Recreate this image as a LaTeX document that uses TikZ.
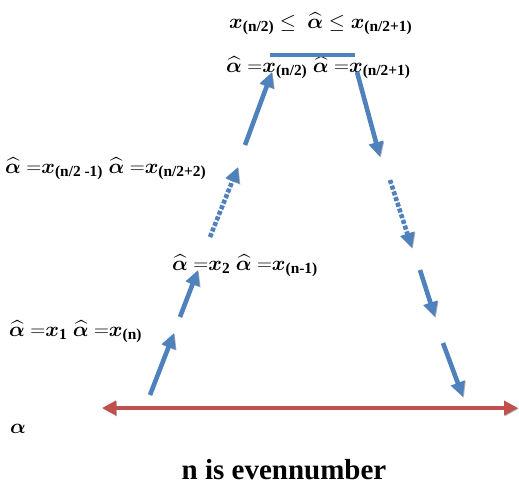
\documentclass[tikz,border=0pt]{standalone}
\usepackage{amsmath,amssymb,bm}
\usepackage{fontspec}
\setmainfont{Liberation Serif}
\usetikzlibrary{arrows.meta,positioning}
\definecolor{arrowBlue}{RGB}{79,129,189}
\definecolor{lineRed}{RGB}{192,80,77}
\newcommand{\ahat}{\widehat{\bm{\alpha}}}
\newcommand{\xsub}[1]{\bm{x}_{\text{\bfseries #1}}}
\tikzset{
  lbl/.style={anchor=base west,inner sep=0pt,font=\fontsize{22}{26}\selectfont},
  bluearrow/.style={draw=arrowBlue,line width=4.6pt,
    -{Triangle[width=14pt,length=15pt]},
    preaction={draw=gray!60,transform canvas={shift={(0.8pt,-0.8pt)}}}},
  dotarrow/.style={bluearrow,dash pattern=on 4pt off 2pt},
  redline/.style={draw=lineRed,line width=4.6pt,
    {Triangle[width=14pt,length=14pt]}-{Triangle[width=14pt,length=14pt]},
    preaction={draw=gray!60,transform canvas={shift={(0.8pt,-0.8pt)}}}}
}
\begin{document}
\begin{tikzpicture}[x=1pt,y=-1pt]
\useasboundingbox (0,0) rectangle (519,488);
% labels
\node[lbl] (top) at (229,28) {$\xsub{(n/2)}\le\ \ahat\le\xsub{(n/2+1)}$};
\node[lbl] (mid) at (226,72) {$\ahat\ {=}\xsub{(n/2)}\ \ahat\ {=}\xsub{(n/2+1)}$};
\node[lbl] (lvl3) at (5,173) {$\ahat\ {=}\xsub{(n/2 -1)}\ \ahat\ {=}\xsub{(n/2+2)}$};
\node[lbl] (lvl2) at (172,270) {$\ahat\ {=}\xsub{2}\ \ahat\ {=}\xsub{(n-1)}$};
\node[lbl] (lvl1) at (9,336) {$\ahat\ {=}\xsub{1}\ \ahat\ {=}\xsub{(n)}$};
\node[lbl] (alpha) at (10,433) {$\bm{\alpha}$};
\node[anchor=base,inner sep=0pt,font=\bfseries\fontsize{29}{33}\selectfont] (cap) at (284,479) {n is evennumber};
% arrow ends
\coordinate (l1s) at (150,395); \coordinate (l1e) at (174,333);
\coordinate (l2s) at (180,317); \coordinate (l2e) at (198,270);
\coordinate (l3s) at (210,237); \coordinate (l3e) at (238,167);
\coordinate (l4s) at (245,145); \coordinate (l4e) at (272,72);
\coordinate (r1s) at (357,72);  \coordinate (r1e) at (380,157);
\coordinate (r2s) at (390,180); \coordinate (r2e) at (412,248);
\coordinate (r3s) at (420,270); \coordinate (r3e) at (435,317);
\coordinate (r4s) at (443,343); \coordinate (r4e) at (463,397);
\coordinate (barL) at (270,55); \coordinate (barR) at (355,55);
\coordinate (axL) at (102,408); \coordinate (axR) at (518,408);
% top bar
\draw[draw=arrowBlue,line width=4.6pt] (barL) -- (barR);
% arrows
\draw[bluearrow] (l1s) -- (l1e);
\draw[bluearrow] (l2s) -- (l2e);
\draw[dotarrow] (l3s) -- (l3e);
\draw[bluearrow] (l4s) -- (l4e);
\draw[bluearrow] (r1s) -- (r1e);
\draw[dotarrow] (r2s) -- (r2e);
\draw[bluearrow] (r3s) -- (r3e);
\draw[bluearrow] (r4s) -- (r4e);
\draw[redline] (axL) -- (axR);
\end{tikzpicture}
\end{document}
